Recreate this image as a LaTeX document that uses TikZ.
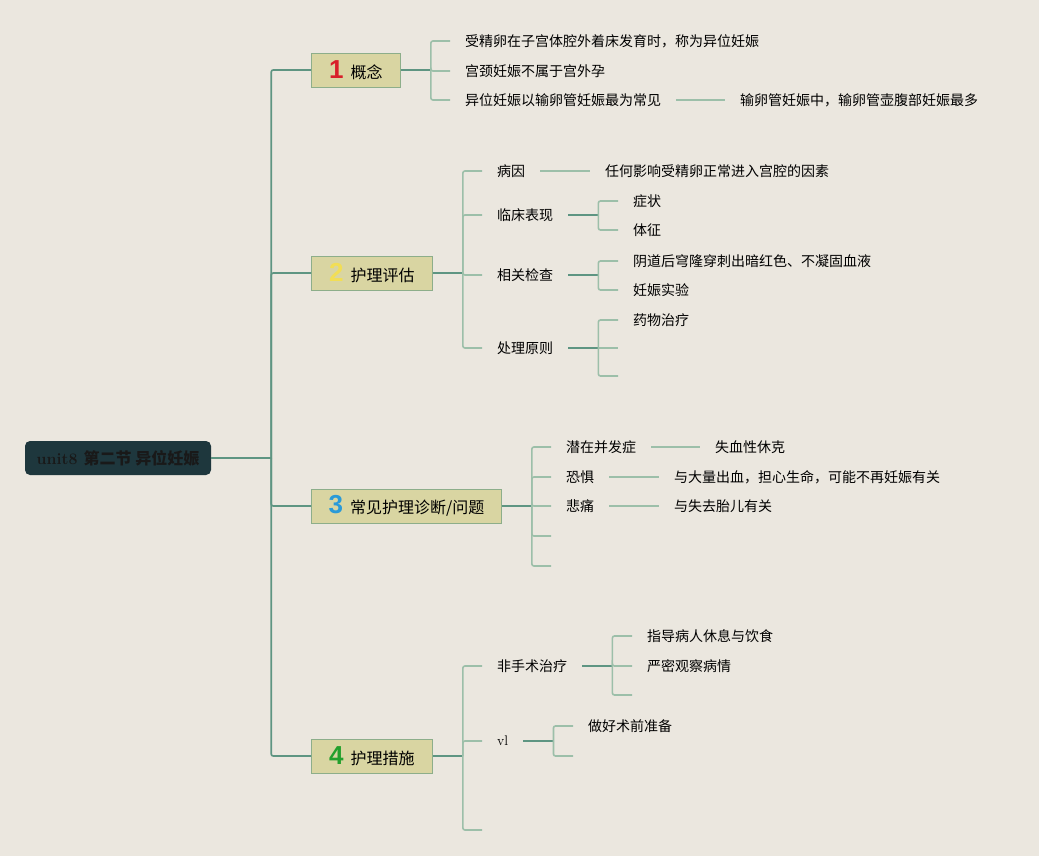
\documentclass[tikz,border=0pt]{standalone}
\usepackage{fontspec}
\usepackage{xcolor}
\newfontfamily\cjk{Noto Sans CJK SC}
\newfontfamily\numfont{Liberation Sans}

\definecolor{pagebg}{HTML}{EBE7DF}
\definecolor{rootbg}{HTML}{1E373D}
\definecolor{topicbg}{HTML}{D9D5A2}
\definecolor{topicline}{HTML}{8DAE8A}
\definecolor{linkdark}{HTML}{5E9582}
\definecolor{linklight}{HTML}{9CBFA9}
\definecolor{numred}{HTML}{D8202A}
\definecolor{numyellow}{HTML}{F2DE55}
\definecolor{numblue}{HTML}{2A9AD8}
\definecolor{numgreen}{HTML}{23A02C}

\newcommand{\numtag}[2]{{\numfont\bfseries\fontsize{26}{26}\selectfont\color{#1}#2}\hspace{7pt}}

\begin{document}
\begin{tikzpicture}[x=1pt,y=-1pt,
  root/.style={fill=rootbg,rounded corners=5pt,minimum width=186pt,minimum height=34pt,
    text=black!90,font=\bfseries\fontsize{16}{18}\selectfont},
  topic/.style={anchor=west,fill=topicbg,draw=topicline,line width=0.9pt,minimum height=34pt,
    inner xsep=4pt,inner ysep=0pt,font=\cjk\fontsize{16}{18}\selectfont},
  leaf/.style={anchor=west,inner xsep=15pt,inner ysep=2pt,font=\cjk\fontsize{14}{16}\selectfont},
  link/.style={draw=linkdark,line width=1.6pt},
  stub/.style={draw=linklight,line width=1.6pt,rounded corners=2pt}]
\useasboundingbox (0,0) rectangle (1039,856);
\fill[pagebg] (0,0) rectangle (1039,856);

% root and main topics
\node[root] (root) at (118,458) {unit8 {\cjk 第二节 异位妊娠}};
\node[topic,minimum width=89pt] (c1) at (311,70) {\numtag{numred}{1}概念};
\node[topic,minimum width=121pt] (c2) at (311,273) {\numtag{numyellow}{2}护理评估};
\node[topic,minimum width=190pt] (c3) at (311,506) {\numtag{numblue}{3}常见护理诊断/问题};
\node[topic,minimum width=121pt] (c4) at (311,756) {\numtag{numgreen}{4}护理措施};

\draw[link] (root.east) -- ++(60,0) coordinate (rj);
\foreach \c in {c1,c2,c3,c4}
  \draw[link,rounded corners=2pt] (rj) |- (\c.west);

% 1 概念
\node[leaf] (a1) at (450,41) {受精卵在子宫体腔外着床发育时，称为异位妊娠};
\node[leaf] (a2) at (450,71) {宫颈妊娠不属于宫外孕};
\node[leaf] (a3) at (450,100) {异位妊娠以输卵管妊娠最为常见};
\node[leaf] (a3x) at (725,100) {输卵管妊娠中，输卵管壶腹部妊娠最多};
\draw[link] (c1.east) -- ++(30,0) coordinate (j1);
\foreach \n in {a1,a2,a3}
  \draw[stub] (j1) |- (\n.west);
\draw[stub] (a3.east) -- (a3x.west);

% 2 护理评估
\node[leaf] (b1) at (482,171) {病因};
\node[leaf] (b1x) at (590,171) {任何影响受精卵正常进入宫腔的因素};
\node[leaf] (b2) at (482,215) {临床表现};
\node[leaf] (b21) at (618,201) {症状};
\node[leaf] (b22) at (618,230) {体征};
\node[leaf] (b3) at (482,275) {相关检查};
\node[leaf] (b31) at (618,261) {阴道后穹隆穿刺出暗红色、不凝固血液};
\node[leaf] (b32) at (618,290) {妊娠实验};
\node[leaf] (b4) at (482,348) {处理原则};
\node[leaf] (b41) at (618,320) {药物治疗};
\coordinate (b42) at (618,348);
\coordinate (b43) at (618,376);
\draw[link] (c2.east) -- ++(30,0) coordinate (j2);
\foreach \n in {b1,b2,b3,b4}
  \draw[stub] (j2) |- (\n.west);
\draw[stub] (b1.east) -- (b1x.west);
\draw[link] (b2.east) -- ++(30,0) coordinate (j21);
\foreach \n in {b21,b22}
  \draw[stub] (j21) |- (\n.west);
\draw[link] (b3.east) -- ++(30,0) coordinate (j31);
\foreach \n in {b31,b32}
  \draw[stub] (j31) |- (\n.west);
\draw[link] (b4.east) -- ++(30,0) coordinate (j41);
\draw[stub] (j41) |- (b41.west);
\draw[stub] (j41) -- (b42);
\draw[stub] (j41) |- (b43);

% 3 常见护理诊断/问题
\node[leaf] (e1) at (551,447) {潜在并发症};
\node[leaf] (e1x) at (700,447) {失血性休克};
\node[leaf] (e2) at (551,477) {恐惧};
\node[leaf] (e2x) at (659,477) {与大量出血，担心生命，可能不再妊娠有关};
\node[leaf] (e3) at (551,506) {悲痛};
\node[leaf] (e3x) at (659,506) {与失去胎儿有关};
\coordinate (e4) at (551,536);
\coordinate (e5) at (551,566);
\draw[link] (c3.east) -- ++(30,0) coordinate (j3);
\foreach \n in {e1,e2,e3}
  \draw[stub] (j3) |- (\n.west);
\foreach \n in {e4,e5}
  \draw[stub] (j3) |- (\n);
\draw[stub] (e1.east) -- (e1x.west);
\draw[stub] (e2.east) -- (e2x.west);
\draw[stub] (e3.east) -- (e3x.west);

% 4 护理措施
\node[leaf] (f1) at (482,666) {非手术治疗};
\node[leaf] (f11) at (632,636) {指导病人休息与饮食};
\node[leaf] (f12) at (632,666) {严密观察病情};
\coordinate (f13) at (632,695);
\node[leaf,font=\fontsize{14}{16}\selectfont] (f2) at (482,741) {vl};
\node[leaf] (f21) at (573,726) {做好术前准备};
\coordinate (f22) at (573,756);
\coordinate (f3) at (482,830);
\draw[link] (c4.east) -- ++(30,0) coordinate (j4);
\foreach \n in {f1,f2}
  \draw[stub] (j4) |- (\n.west);
\draw[stub] (j4) |- (f3);
\draw[link] (f1.east) -- ++(30,0) coordinate (j41x);
\foreach \n in {f11,f12}
  \draw[stub] (j41x) |- (\n.west);
\draw[stub] (j41x) |- (f13);
\draw[link] (f2.east) -- ++(30,0) coordinate (j42);
\draw[stub] (j42) |- (f21.west);
\draw[stub] (j42) |- (f22);
\end{tikzpicture}
\end{document}
